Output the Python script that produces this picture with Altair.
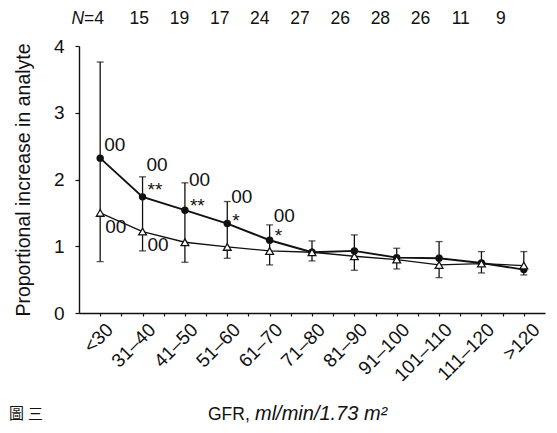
import json
import altair as alt
import pandas as pd

categories = ["<30", "31–40", "41–50", "51–60", "61–70", "71–80",
              "81–90", "91–100", "101–110", "111–120", ">120"]
n_counts = [4, 15, 19, 17, 24, 27, 26, 28, 26, 11, 9]
circle_vals = [2.32, 1.74, 1.54, 1.34, 1.09, 0.91, 0.93, 0.83, 0.82, 0.75, 0.65]
triangle_vals = [1.50, 1.22, 1.06, 0.99, 0.93, 0.91, 0.85, 0.80, 0.72, 0.74, 0.71]
err_high = [3.76, 2.04, 1.95, 1.67, 1.32, 1.08, 1.17, 0.97, 1.07, 0.92, 0.92]
err_low = [0.77, 0.93, 0.76, 0.82, 0.72, 0.78, 0.64, 0.66, 0.53, 0.60, 0.57]

circle_note_idx = [0, 1, 2, 3, 4]
circle_note_text = ["00", "00", "00", "00", "00"]
circle_note_y = [2.52, 2.22, 2.00, 1.74, 1.45]
star_idx = [1, 2, 3, 4]
star_text = ["**", "**", "*", "*"]
star_y = [1.85, 1.60, 1.38, 1.16]
tri_note_idx = [0, 1]
tri_note_text = ["00", "00"]
tri_note_y = [1.29, 1.02]

FONT = "Liberation Sans"
BLACK = "#111111"

df = pd.DataFrame({
    "idx": list(range(len(categories))),
    "cat": categories,
    "n": [str(v) for v in n_counts],
    "circ": circle_vals,
    "tri": triangle_vals,
    "hi": err_high,
    "lo": err_low,
})
circ_notes = pd.DataFrame({"idx": circle_note_idx, "t": circle_note_text, "y": circle_note_y})
stars = pd.DataFrame({"idx": star_idx, "t": star_text, "y": star_y})
tri_notes = pd.DataFrame({"idx": tri_note_idx, "t": tri_note_text, "y": tri_note_y})

label_expr = (
    "datum.value % 1 == 0 ? " + json.dumps(categories, ensure_ascii=False)
    + "[datum.value] : ''"
)

x_axis = alt.Axis(
    values=[i * 0.5 for i in range(21)],
    labelExpr=label_expr,
    labelAngle=-45,
    labelAlign="right",
    labelBaseline="top",
    labelFontSize=19,
    labelFont=FONT,
    labelColor=BLACK,
    labelPadding=4,
    labelOverlap=False,
    labelFlush=False,
    labelOffset={"condition": {"test": "datum.value == 10", "value": 6}, "value": 3},
    tickSize=3,
    tickColor=BLACK,
    tickWidth=1.2,
    domainColor=BLACK,
    domainWidth=1.4,
    grid=False,
    title=None,
)
x_scale = alt.Scale(domain=[-0.5, 10.5], nice=False, zero=False)
X = alt.X("idx:Q", scale=x_scale, axis=x_axis)

y_scale = alt.Scale(domain=[0, 4], nice=False)
y_axis = alt.Axis(
    values=[i * 0.5 for i in range(9)],
    labelExpr="datum.value % 1 == 0 ? toString(datum.value) : ''",
    labelFontSize=19,
    labelFont=FONT,
    labelColor=BLACK,
    labelPadding=11,
    tickSize=4,
    tickColor=BLACK,
    tickWidth=1.2,
    domainColor=BLACK,
    domainWidth=1.4,
    grid=False,
    title="Proportional increase in analyte",
    titleFont=FONT,
    titleFontSize=19.5,
    titleFontWeight="normal",
    titleColor=BLACK,
    titlePadding=20,
)

base = alt.Chart(df)

rules = base.mark_rule(color=BLACK, strokeWidth=1.3).encode(
    x=X, y=alt.Y("lo:Q", scale=y_scale, axis=y_axis), y2="hi:Q"
)
cap_hi = base.mark_tick(orient="horizontal", color=BLACK, size=7, thickness=1.3).encode(
    x=X, y=alt.Y("hi:Q", scale=y_scale)
)
cap_lo = base.mark_tick(orient="horizontal", color=BLACK, size=7, thickness=1.3).encode(
    x=X, y=alt.Y("lo:Q", scale=y_scale)
)
line_c = base.mark_line(color=BLACK, strokeWidth=1.9).encode(
    x=X, y=alt.Y("circ:Q", scale=y_scale)
)
line_t = base.mark_line(color=BLACK, strokeWidth=1.3).encode(
    x=X, y=alt.Y("tri:Q", scale=y_scale)
)
pts_c = base.mark_point(shape="circle", filled=True, color=BLACK, size=55, opacity=1).encode(
    x=X, y=alt.Y("circ:Q", scale=y_scale)
)
pts_t = base.mark_point(
    shape="triangle-up", filled=True, fill="white", stroke=BLACK,
    strokeWidth=1.3, size=60, opacity=1
).encode(x=X, y=alt.Y("tri:Q", scale=y_scale))

note_c = alt.Chart(circ_notes).mark_text(
    align="left", baseline="middle", dx=4, font=FONT, fontSize=19, color=BLACK
).encode(x=X, y=alt.Y("y:Q", scale=y_scale), text="t:N")
note_s = alt.Chart(stars).mark_text(
    align="left", baseline="middle", dx=5, font=FONT, fontSize=19, color=BLACK
).encode(x=X, y=alt.Y("y:Q", scale=y_scale), text="t:N")
note_t = alt.Chart(tri_notes).mark_text(
    align="left", baseline="middle", dx=5, font=FONT, fontSize=19, color=BLACK
).encode(x=X, y=alt.Y("y:Q", scale=y_scale), text="t:N")

title_a = alt.Chart(pd.DataFrame({"t": ["GFR,"]})).mark_text(
    align="left", baseline="alphabetic", font=FONT, fontSize=17.5, color=BLACK
).encode(x=alt.value(129), y=alt.value(374), text="t:N")
title_b = alt.Chart(pd.DataFrame({"t": ["ml/min/1.73 m²"]})).mark_text(
    align="left", baseline="alphabetic", font=FONT, fontSize=20, fontStyle="italic", color=BLACK
).encode(x=alt.value(176), y=alt.value(374), text="t:N")
fig_a = alt.Chart(pd.DataFrame({"t": ["圖"]})).mark_text(
    align="left", baseline="alphabetic", font="Noto Sans CJK TC", fontSize=15, color=BLACK
).encode(x=alt.value(-70), y=alt.value(373), text="t:N")
fig_b = alt.Chart(pd.DataFrame({"t": ["三"]})).mark_text(
    align="left", baseline="alphabetic", font="Noto Sans CJK TC", fontSize=15, color=BLACK
).encode(x=alt.value(-51), y=alt.value(373), text="t:N")

main = alt.layer(rules, cap_hi, cap_lo, line_c, line_t, pts_c, pts_t,
                 note_c, note_s, note_t, title_a, title_b, fig_a, fig_b)

xn = alt.X("idx:Q", scale=alt.Scale(domain=[-0.5, 10.5], range=[2, 444], nice=False, zero=False), axis=None)
n_text = base.mark_text(
    align="center", baseline="alphabetic", font=FONT, fontSize=17.5, color=BLACK, dx=-2
).encode(x=xn, y=alt.value(-22), text="n:N")
first = alt.Chart(df.iloc[[0]])
n_italic = first.mark_text(
    align="right", baseline="alphabetic", font=FONT, fontSize=17.5, fontStyle="italic",
    color=BLACK, dx=-17
).encode(x=xn, y=alt.value(-22), text=alt.value("N"))
n_eq = first.mark_text(
    align="center", baseline="alphabetic", font=FONT, fontSize=17.5, color=BLACK, dx=-12
).encode(x=xn, y=alt.value(-22), text=alt.value("="))
ntop = alt.layer(n_text, n_italic, n_eq)

chart = alt.layer(main, ntop).resolve_scale(x="independent").properties(
    width=466, height=267,
    padding={"left": 71, "top": 38, "right": 4, "bottom": 112},
    autosize=alt.AutoSizeParams(type="none"),
).configure_view(stroke=None)

chart.save("out.html", embed_options={"renderer": "svg", "actions": False})
